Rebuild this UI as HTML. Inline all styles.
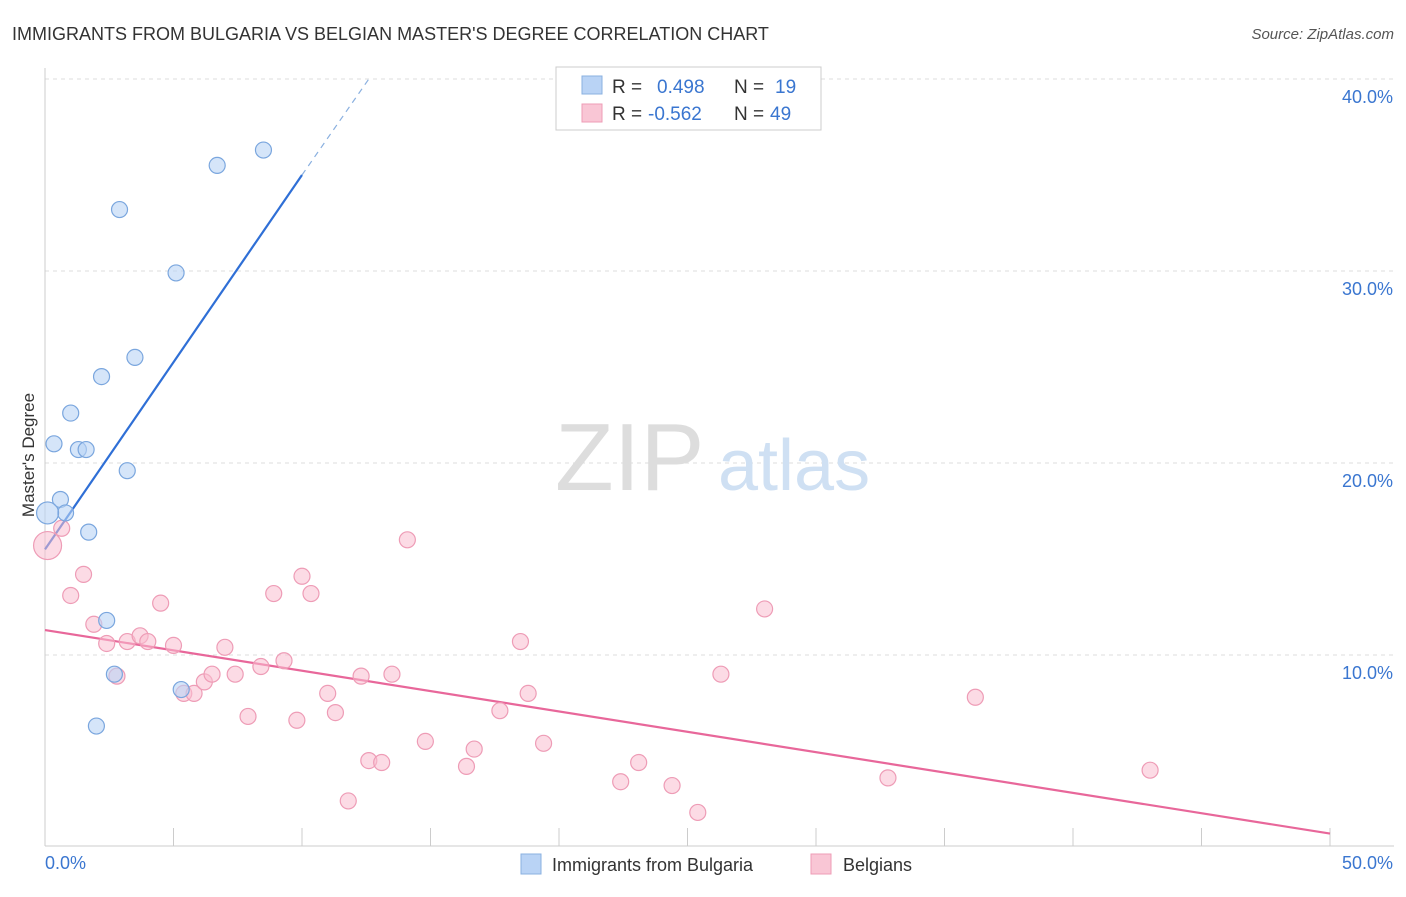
<!DOCTYPE html>
<html><head><meta charset="utf-8"><style>
body{margin:0;background:#fff;font-family:"Liberation Sans",sans-serif;}
svg text{font-family:"Liberation Sans",sans-serif;}
</style></head><body>
<svg width="1406" height="892" xmlns="http://www.w3.org/2000/svg">
<text x="12" y="40" font-size="18" fill="#333">IMMIGRANTS FROM BULGARIA VS BELGIAN MASTER'S DEGREE CORRELATION CHART</text>
<text x="1394" y="39" font-size="15" fill="#555" text-anchor="end" font-style="italic">Source: ZipAtlas.com</text>
<g id="grid"></g>
<g id="axes"></g>
<text x="555" y="490" font-size="96" fill="#ddd" font-family="Liberation Serif">ZIP</text>
<text x="718" y="490" font-size="72" fill="#cfe0f3">atlas</text>
<text transform="translate(34,455) rotate(-90)" font-size="17" fill="#333" text-anchor="middle">Master's Degree</text>
<g id="lines"></g>
<g id="pts"></g>
<g>
<rect x="556" y="67" width="265" height="63" fill="#fff" stroke="#ccc"/>
<rect x="582" y="76" width="20" height="18" fill="#b9d3f5" stroke="#8ab0e0"/>
<rect x="582" y="104" width="20" height="18" fill="#f9c6d5" stroke="#ee9cb6"/>
<text x="612" y="93" font-size="19" fill="#333">R =</text>
<text x="657" y="93" font-size="19" fill="#3a76d0">0.498</text>
<text x="734" y="93" font-size="19" fill="#333">N =</text>
<text x="775" y="93" font-size="19" fill="#3a76d0">19</text>
<text x="612" y="120" font-size="19" fill="#333">R =</text>
<text x="648" y="120" font-size="19" fill="#3a76d0">-0.562</text>
<text x="734" y="120" font-size="19" fill="#333">N =</text>
<text x="770" y="120" font-size="19" fill="#3a76d0">49</text>
</g>
<g>
<rect x="521" y="854" width="20" height="20" fill="#b9d3f5" stroke="#8ab0e0"/>
<text x="552" y="871" font-size="18" fill="#333">Immigrants from Bulgaria</text>
<rect x="811" y="854" width="20" height="20" fill="#f9c6d5" stroke="#ee9cb6"/>
<text x="843" y="871" font-size="18" fill="#333">Belgians</text>
</g>
</svg>
<script>
const yTicks=[10,20,30,40];
const xTicks=[0,5,10,15,20,25,30,35,40,45,50];
const blueX=[2.9,6.7,8.5,5.1,3.5,2.2,1.0,0.35,1.3,1.6,3.2,0.6,0.8,0.1,1.7,2.4,2.7,5.3,2.0];
const blueY=[33.2,35.5,36.3,29.9,25.5,24.5,22.6,21.0,20.7,20.7,19.6,18.1,17.4,17.4,16.4,11.8,9.0,8.2,6.3];
const pinkX=[0.1,0.65,1.5,1.0,1.9,2.4,3.2,3.7,4.0,4.5,5.0,2.8,5.4,5.8,6.2,6.5,7.0,7.4,7.9,8.4,8.9,9.3,9.8,10.0,10.35,11.0,11.3,11.8,12.3,12.6,13.1,13.5,14.1,14.8,16.4,16.7,17.7,18.5,18.8,19.4,22.4,23.1,24.4,25.4,26.3,28.0,32.8,36.2,43.0];
const pinkY=[15.7,16.6,14.2,13.1,11.6,10.6,10.7,11.0,10.7,12.7,10.5,8.9,8.0,8.0,8.6,9.0,10.4,9.0,6.8,9.4,13.2,9.7,6.6,14.1,13.2,8.0,7.0,2.4,8.9,4.5,4.4,9.0,16.0,5.5,4.2,5.1,7.1,10.7,8.0,5.4,3.4,4.4,3.2,1.8,9.0,12.4,3.6,7.8,4.0];
const X=v=>45+v*25.7, Y=v=>847-v*19.2;
const NS='http://www.w3.org/2000/svg';
function mk(t,a,p){const e=document.createElementNS(NS,t);for(const k in a)e.setAttribute(k,a[k]);document.getElementById(p).appendChild(e);return e;}
yTicks.forEach(v=>{
 let l=mk('line',{x1:45,x2:1394,y1:Y(v),y2:Y(v),stroke:'#ddd','stroke-dasharray':'4,4'},'grid');
 
 
 let t=mk('text',{x:1393,y:Y(v)+24,'font-size':18,fill:'#3a76d0','text-anchor':'end'},'grid');
 t.textContent=v.toFixed(1)+'%';
 
 
});
let ax=mk('line',{x1:45,x2:45,y1:68,y2:846,stroke:'#ccc'},'axes');


let bx=mk('line',{x1:45,x2:1394,y1:846,y2:846,stroke:'#ccc'},'axes');


xTicks.forEach(v=>{
 let l=mk('line',{x1:X(v),x2:X(v),y1:828,y2:846,stroke:'#ccc'},'axes');
 
 
});
[[0,'0.0%','start',45],[50,'50.0%','end',1393]].forEach(d=>{
 let t=mk('text',{x:d[3],y:869,'font-size':18,fill:'#3a76d0','text-anchor':d[2]},'axes');
 t.textContent=d[1];
 
 
});
let bl=mk('line',{x1:X(0),y1:Y(15.5),x2:X(10),y2:Y(35),stroke:'#2f6fd6','stroke-width':2.2},'lines');


let bd=mk('line',{x1:X(10),y1:Y(35),x2:X(12.6),y2:Y(40),stroke:'#8ab0e0','stroke-width':1.2,'stroke-dasharray':'6,5'},'lines');


let pl=mk('line',{x1:X(0),y1:Y(11.3),x2:X(50),y2:Y(0.7),stroke:'#e8679a','stroke-width':2.2},'lines');


pinkX.forEach((v,i)=>{
 let c=mk('circle',{cx:X(v),cy:Y(pinkY[i]),r:i==0?14:8,fill:'rgba(249,190,208,0.55)',stroke:'#ee9cb6','stroke-width':1.2},'pts');
 
 
});
blueX.forEach((v,i)=>{
 let c=mk('circle',{cx:X(v),cy:Y(blueY[i]),r:i==13?11:8,fill:'rgba(185,211,245,0.6)',stroke:'#7aa6de','stroke-width':1.2},'pts');
 
 
});
</script>
</body></html>
